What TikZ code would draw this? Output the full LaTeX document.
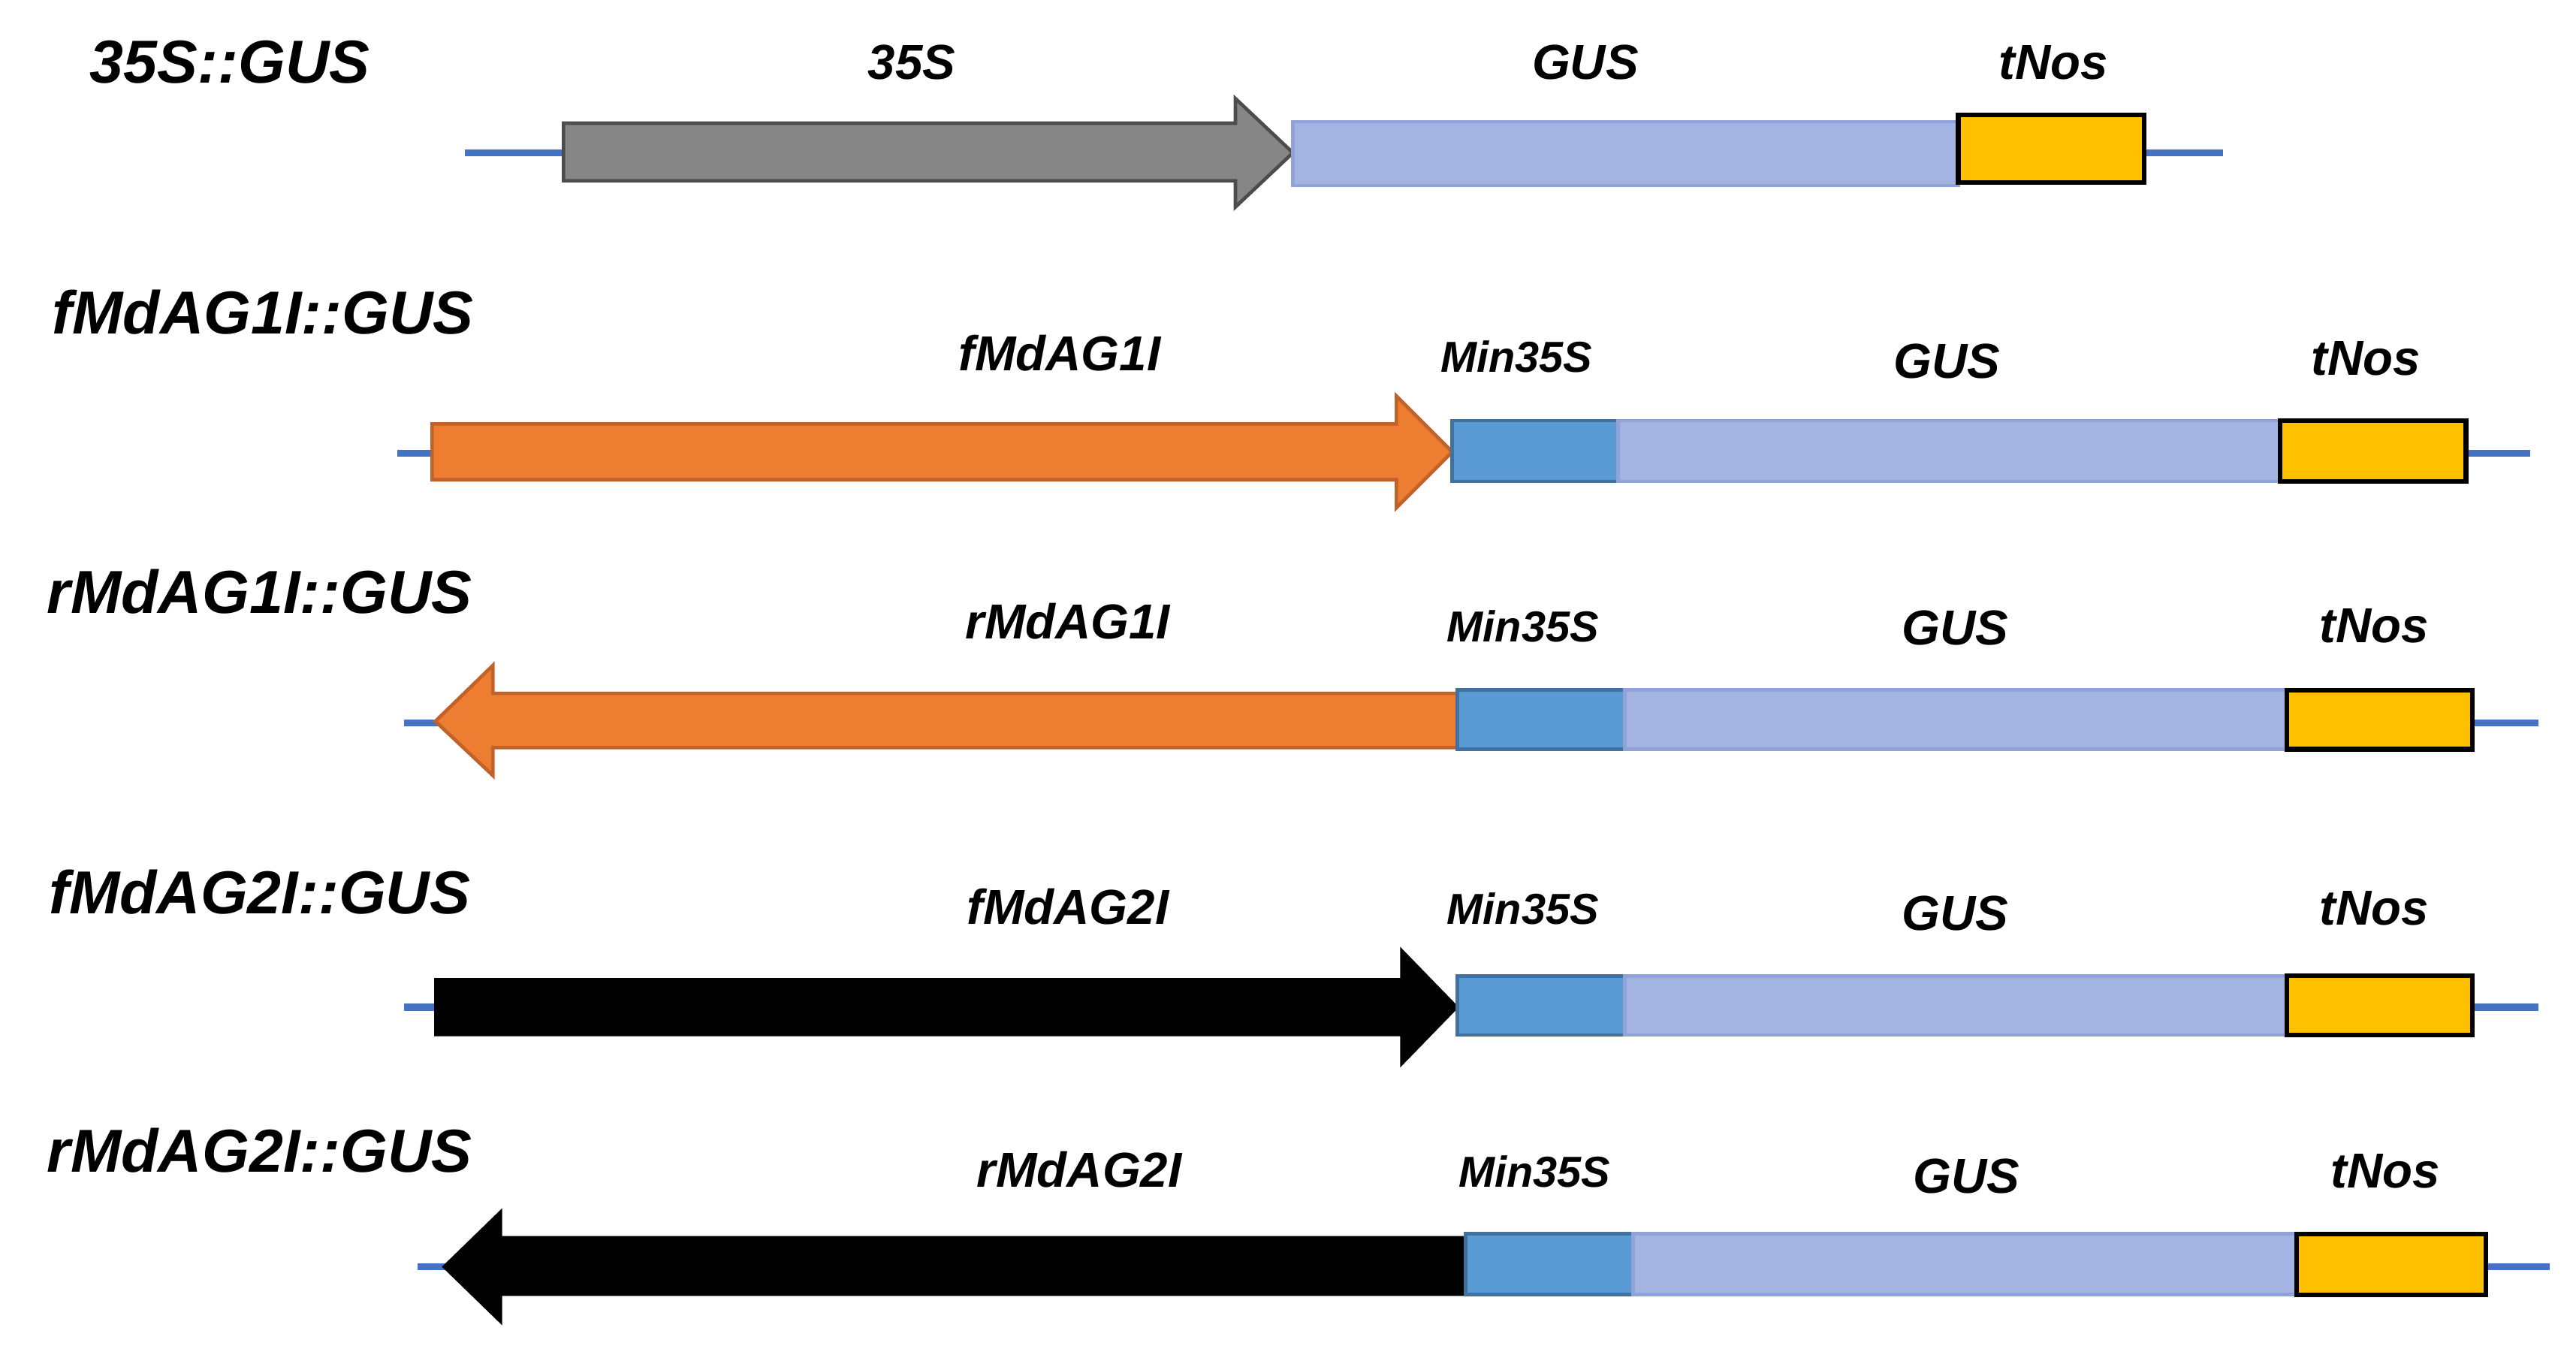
\documentclass[tikz,border=0pt]{standalone}
\usepackage{fontspec}
\setmainfont{Liberation Sans}
\begin{document}
\begin{tikzpicture}[x=0.01cm,y=-0.01cm,
  ttl/.style={font=\fontsize{10.5}{12}\selectfont\bfseries\itshape},
  lbl/.style={font=\fontsize{8.5}{10}\selectfont\bfseries\itshape},
  mlbl/.style={font=\fontsize{7.5}{9}\selectfont\bfseries\itshape},
  bb/.style={draw=blue!60!black!70,line width=0.9pt},
  gus/.style={fill=gusc,draw=gusd,line width=0.6pt},
  mini/.style={fill=minc,draw=mind,line width=0.6pt},
  tnos/.style={fill=tnosc,draw=black,line width=0.8pt}]
\definecolor{linec}{HTML}{4472C4}
\definecolor{gusc}{HTML}{A4B4E2}
\definecolor{gusd}{HTML}{8FA3D8}
\definecolor{minc}{HTML}{5B9BD5}
\definecolor{mind}{HTML}{41719C}
\definecolor{tnosc}{HTML}{FFC000}
\definecolor{orc}{HTML}{ED7D31}
\definecolor{ord}{HTML}{C0622A}
\useasboundingbox (0,0) rectangle (1568,828);
% row 1
\draw[linec,line width=1.2pt] (283,93) -- (1353,93);
\draw[fill=gray!95,draw=black!70,line width=0.6pt] (343,75)--(752,75)--(752,60)--(787,93)--(752,126)--(752,110)--(343,110)--cycle;
\draw[gus] (787,74) rectangle (1192,113);
\draw[tnos] (1192,70) rectangle (1305,111);
\node[ttl] (t1) at (140,38) {35S::GUS};
\node[lbl] (a1) at (555,38) {35S};
\node[lbl] (g1) at (965,38) {GUS};
\node[lbl] (n1) at (1250,38) {tNos};
% row 2
\draw[linec,line width=1.2pt] (242,276) -- (1540,276);
\draw[fill=orc,draw=ord,line width=0.6pt] (263,258)--(850,258)--(850,241)--(884,275)--(850,309)--(850,292)--(263,292)--cycle;
\draw[mini] (884,256) rectangle (985,293);
\draw[gus] (985,256) rectangle (1388,293);
\draw[tnos] (1388,256) rectangle (1501,293);
\node[ttl] (t2) at (160,190) {fMdAG1I::GUS};
\node[lbl] (a2) at (645,215) {fMdAG1I};
\node[mlbl] (m2) at (923,217) {Min35S};
\node[lbl] (g2) at (1185,220) {GUS};
\node[lbl] (n2) at (1440,218) {tNos};
% row 3
\draw[linec,line width=1.2pt] (246,440) -- (1545,440);
\draw[fill=orc,draw=ord,line width=0.6pt] (887,422)--(300,422)--(300,405)--(265,439)--(300,472)--(300,455)--(887,455)--cycle;
\draw[mini] (887,420) rectangle (989,456);
\draw[gus] (989,420) rectangle (1392,456);
\draw[tnos] (1392,420) rectangle (1505,456);
\node[ttl] (t3) at (158,360) {rMdAG1I::GUS};
\node[lbl] (a3) at (650,378) {rMdAG1I};
\node[mlbl] (m3) at (927,381) {Min35S};
\node[lbl] (g3) at (1190,382) {GUS};
\node[lbl] (n3) at (1445,381) {tNos};
% row 4
\draw[linec,line width=1.2pt] (246,613) -- (1545,613);
\draw[fill=black] (265,596)--(853,596)--(853,578)--(887,613)--(853,648)--(853,630)--(265,630)--cycle;
\draw[mini] (887,594) rectangle (989,630);
\draw[gus] (989,594) rectangle (1392,630);
\draw[tnos] (1392,594) rectangle (1505,630);
\node[ttl] (t4) at (158,543) {fMdAG2I::GUS};
\node[lbl] (a4) at (650,552) {fMdAG2I};
\node[mlbl] (m4) at (927,553) {Min35S};
\node[lbl] (g4) at (1190,556) {GUS};
\node[lbl] (n4) at (1445,553) {tNos};
% row 5
\draw[linec,line width=1.2pt] (254,771) -- (1552,771);
\draw[fill=black] (892,753)--(305,753)--(305,737)--(270,771)--(305,805)--(305,788)--(892,788)--cycle;
\draw[mini] (892,751) rectangle (994,788);
\draw[gus] (994,751) rectangle (1398,788);
\draw[tnos] (1398,751) rectangle (1513,788);
\node[ttl] (t5) at (158,700) {rMdAG2I::GUS};
\node[lbl] (a5) at (657,712) {rMdAG2I};
\node[mlbl] (m5) at (934,713) {Min35S};
\node[lbl] (g5) at (1197,716) {GUS};
\node[lbl] (n5) at (1452,713) {tNos};
\end{tikzpicture}
\end{document}
